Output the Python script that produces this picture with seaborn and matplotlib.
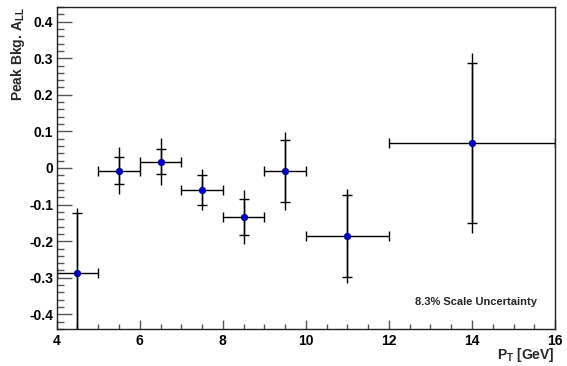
import numpy as np
import pandas as pd
import matplotlib
matplotlib.use("Agg")
import matplotlib.pyplot as plt
from matplotlib.ticker import MultipleLocator, FuncFormatter
import seaborn as sns

# Bin centres and half widths in P_T [GeV].
ptCenters    = [4.5, 5.5, 6.5, 7.5, 8.5, 9.5, 11.0, 14.0]
ptHalfWidths = [0.5, 0.5, 0.5, 0.5, 0.5, 0.5, 1.0, 2.0]

# Peak background A_LL, inner (capped) and outer error bars.
peakAll  = [-0.288, -0.007, 0.017, -0.059, -0.134, -0.008, -0.186, 0.068]
innerErr = [0.166, 0.036, 0.034, 0.041, 0.050, 0.085, 0.112, 0.218]
outerErr = [0.180, 0.065, 0.064, 0.057, 0.074, 0.107, 0.128, 0.246]

scaleText = "8.3% Scale Uncertainty"


sns.set_style("ticks")
plt.rcParams["font.family"]       = ["Liberation Sans", "DejaVu Sans"]
plt.rcParams["font.weight"]       = "bold"
plt.rcParams["axes.unicode_minus"] = False
plt.rcParams["mathtext.fontset"]  = "custom"
plt.rcParams["mathtext.rm"]       = "Liberation Sans:bold"
plt.rcParams["mathtext.bf"]       = "Liberation Sans:bold"
plt.rcParams["mathtext.default"]  = "bf"

data = pd.DataFrame({"pt": ptCenters, "all": peakAll})

figure = plt.figure(figsize=(5.67, 3.66), dpi=100)
axis   = figure.add_axes([0.100, 0.101, 0.879, 0.880])

# Outer errors as plain lines, inner errors with caps.
axis.errorbar(ptCenters, peakAll, yerr=outerErr, fmt="none", ecolor="black", elinewidth=1.0, capsize=0)
axis.errorbar(ptCenters, peakAll, xerr=ptHalfWidths, yerr=innerErr, fmt="none",
              ecolor="black", elinewidth=1.0, capsize=3.6, capthick=1.0)
sns.scatterplot(data=data, x="pt", y="all", ax=axis, color="#0000c8", s=22,
                edgecolor="#00007a", linewidth=0.5, zorder=5, legend=False)

axis.set_xlim(4, 16)
axis.set_ylim(-0.44, 0.44)

axis.xaxis.set_major_locator(MultipleLocator(2))
axis.xaxis.set_minor_locator(MultipleLocator(0.5))
axis.yaxis.set_major_locator(MultipleLocator(0.1))
axis.yaxis.set_minor_locator(MultipleLocator(0.02))

def FormatTick(value, position):
    value = round(value, 4)
    if abs(value) < 1e-9:
        return "0"
    return "{:g}".format(value)

axis.xaxis.set_major_formatter(FuncFormatter(FormatTick))
axis.yaxis.set_major_formatter(FuncFormatter(FormatTick))

axis.tick_params(axis="both", which="both", direction="in", colors="#555555",
                 labelcolor="black", top=False, right=False, width=1.0)
axis.tick_params(axis="y", which="major", length=10.8, pad=2.5, labelsize=10)
axis.tick_params(axis="y", which="minor", length=5.2)
axis.tick_params(axis="x", which="major", length=6.5, pad=3.5, labelsize=10)
axis.tick_params(axis="x", which="minor", length=3.6)

for side in ["left", "bottom", "top", "right"]:
    axis.spines[side].set_visible(True)
    axis.spines[side].set_color("#222222")
    axis.spines[side].set_linewidth(1.0)

axis.set_xlabel(r"P$_{\rm T}$ [GeV]", fontsize=10, fontweight="bold", ha="right", va="center")
axis.xaxis.set_label_coords(1.0, -0.081)
axis.set_ylabel(r"Peak Bkg. A$_{\rm LL}$", fontsize=10, fontweight="bold", ha="right", va="center")
axis.yaxis.set_label_coords(-0.078, 1.0)

axis.text(0.964, 0.085, scaleText, transform=axis.transAxes, ha="right", va="center",
          fontsize=8, fontweight="bold")

figure.savefig("out.png", dpi=100, facecolor="white")
